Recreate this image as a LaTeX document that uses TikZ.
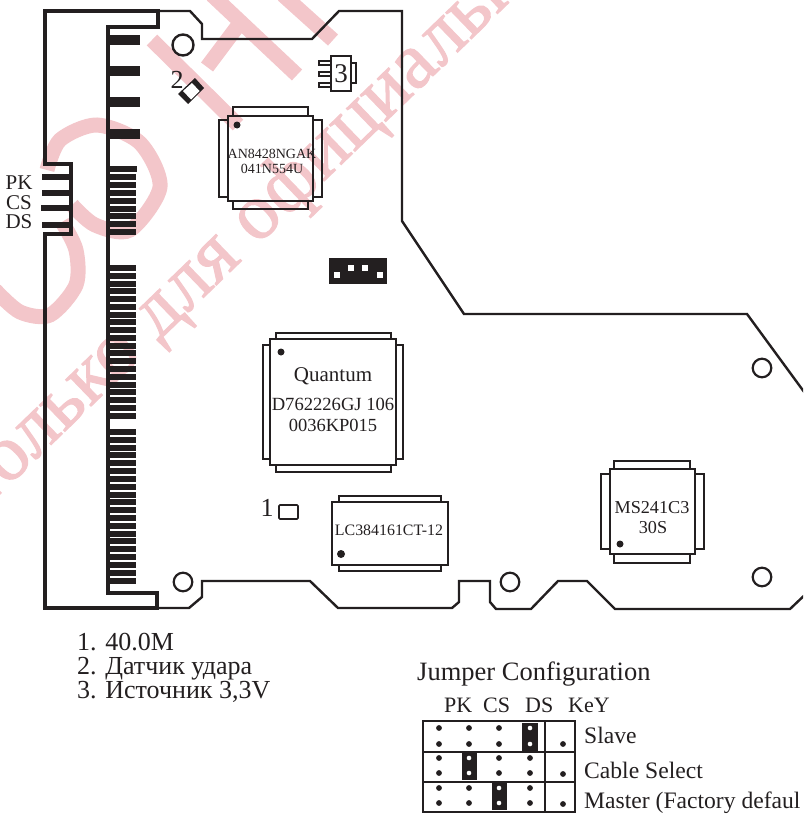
\documentclass[tikz,border=0pt]{standalone}
\usepackage{fontspec}
\setmainfont{Liberation Serif}
\newfontfamily\stampfont[FakeBold=1.3]{Liberation Serif}
\definecolor{wmark}{RGB}{243,198,202}
\definecolor{ink}{RGB}{35,31,32}
\newcommand{\fsz}[1]{\fontsize{#1}{#1}\selectfont}
\begin{document}
\begin{tikzpicture}[x=1pt,y=-1pt,color=ink,
  board/.style={line width=2.4pt,line join=miter},
  boardthick/.style={line width=3.8pt,line join=miter},
  chipline/.style={line width=2.2pt},
  stamp/.style={wmark,line width=15pt},
  lbl/.style={inner sep=0pt,anchor=base west}]
\useasboundingbox (0,0) rectangle (803,816);
\clip (0,0) rectangle (803,816);
  % watermark
  \node[wmark,inner sep=0pt,anchor=base west,rotate=44] (stampline) at (-17.5,511) {\stampfont\fsz{80}только для официального};
  \draw[stamp] plot[smooth] coordinates {(47,170) (60,140) (97,125) (140,143) (160,187) (130,230) (95,225) (72,205)};
  \draw[stamp] plot[smooth] coordinates {(62,222) (76,250) (76,285) (50,315) (20,312) (-5,290)};
  \draw[stamp] (152,40) -- (238,125);
  \draw[stamp] (212,-5) -- (297,75);
  \draw[stamp] (283,-5) -- (333,40);
  \draw[stamp] (240,23) -- (207,67);
  % board outline
  \draw[board] (158,11) -- (190,11) -- (202,24) -- (202,39) -- (312,39) -- (339,11) -- (402,11) -- (402,221) -- (464,314) -- (747,314) -- (810,400);
  \draw[board] (157,608) -- (189,608) -- (202,597) -- (202,581) -- (310,581) -- (338,608) -- (452,608) -- (459,602) -- (459,581) -- (490,581) -- (490,602) -- (496,609) -- (531,609) -- (558,581) -- (587,581) -- (615,609) -- (790,609) -- (810,590);
  % connector edge
  \draw[boardthick] (158,27) -- (158,11) -- (45,11) -- (45,164) -- (71,164) -- (71,234) -- (45,234) -- (45,608) -- (157,608) -- (157,593) -- (108,593) -- (108,27) -- cycle;
  % big contacts
  \foreach \y in {35,66,97,129} \fill (108,\y) rectangle (140,\y+10);
  % first pins
  \fill (108,166) rectangle (137,172);
  \foreach \i in {1,...,8} \fill (108,166+7.9*\i) rectangle (136,172+7.9*\i);
  % pins
  \foreach \i in {0,...,19} \fill (108,265+7.77*\i) rectangle (136,271+7.77*\i);
  \foreach \i in {0,...,19} \fill (108,429+7.82*\i) rectangle (136,435+7.82*\i);
  % jumper pins
  \fill (42,174) rectangle (70,180);
  \fill (42,190) rectangle (70,196);
  \fill (41,205) rectangle (70,211);
  \fill (42,222) rectangle (70,228);
  \node[inner sep=0pt] (pk) at (19,183) {\fsz{21}PK};
  \node[inner sep=0pt] (cs) at (19,203) {\fsz{21}CS};
  \node[inner sep=0pt] (ds) at (19,222) {\fsz{21}DS};
  % mounting holes
  \draw[line width=2.4pt] (183,45) circle (10.5);
  \draw[line width=2.2pt] (183,582) circle (9.3);
  \draw[line width=2.2pt] (510,582) circle (9.3);
  \draw[line width=2.2pt] (762,368) circle (9.3);
  \draw[line width=2.2pt] (762,577) circle (9.3);
  % sensor 2
  \fill (195,78) -- (204,88) -- (188,104) -- (178,94) -- cycle;
  \fill[white] (192,83) -- (199.5,91) -- (191,99.5) -- (183,91) -- cycle;
  \node[inner sep=0pt] (two) at (177,80) {\fsz{26}2};
  % regulator 3
  \draw[line width=1.8pt] (331,56) rectangle (351,91);
  \draw[line width=1.8pt] (351,63) rectangle (356,83);
  \draw[line width=1.6pt] (319,61) rectangle (331,65);
  \draw[line width=1.6pt] (319,72) rectangle (331,76);
  \draw[line width=1.6pt] (319,83) rectangle (331,87);
  \node[inner sep=0pt] (three) at (341,74) {\fsz{27}3};
  % chip AN
  \draw[chipline] (233,107) rectangle (308,116);
  \draw[chipline] (233,201) rectangle (308,209);
  \draw[chipline] (219,120) rectangle (228,197);
  \draw[chipline] (313,120) rectangle (322,197);
  \draw[chipline] (228,116) rectangle (313,201);
  \fill (237,125) circle (3.5);
  \node[inner sep=0pt] (ana) at (272,154) {\fsz{14}AN8428NGAK};
  \node[inner sep=0pt] (anb) at (272,169) {\fsz{14}041N554U};
  % header
  \fill (329,258) rectangle (387,284);
  \fill[white] (334,272) rectangle (340,278);
  \fill[white] (348,265) rectangle (354,271);
  \fill[white] (362,265) rectangle (368,271);
  \fill[white] (377,272) rectangle (383,278);
  % chip Quantum
  \draw[chipline] (276,333) rectangle (391,339);
  \draw[chipline] (276,465) rectangle (391,472);
  \draw[chipline] (263,345) rectangle (270,459);
  \draw[chipline] (396,345) rectangle (403,459);
  \draw[chipline] (270,339) rectangle (396,465);
  \fill (281,352) circle (3.5);
  \node[inner sep=0pt] (qa) at (333,376) {\fsz{21}Quantum};
  \node[inner sep=0pt] (qb) at (333,404) {\fsz{18.6}D762226GJ 106};
  \node[inner sep=0pt] (qc) at (333,425) {\fsz{18.5}0036KP015};
  % crystal 1
  \draw[line width=1.6pt,rounded corners=1pt] (279,505) rectangle (298,519);
  \node[inner sep=0pt] (one) at (267,508) {\fsz{26}1};
  % chip LC
  \draw[chipline] (339,496) rectangle (441,502);
  \draw[chipline] (339,565) rectangle (441,571);
  \draw[chipline] (332,502) rectangle (448,565);
  \fill (341,554) circle (4);
  \node[inner sep=0pt] (lc) at (389,530) {\fsz{15.9}LC384161CT-12};
  % chip MS
  \draw[chipline] (614,461) rectangle (690,469);
  \draw[chipline] (614,554) rectangle (690,563);
  \draw[chipline] (601,474) rectangle (610,549);
  \draw[chipline] (695,474) rectangle (704,549);
  \draw[chipline] (610,469) rectangle (695,554);
  \fill (620,544) circle (3.5);
  \node[inner sep=0pt] (msa) at (652,508) {\fsz{18.2}MS241C3};
  \node[inner sep=0pt] (msb) at (653,528) {\fsz{18.2}30S};
  % legend
  \node[lbl] (lega) at (77,650) {\fsz{26}1. 40.0M};
  \node[lbl] (legb) at (77,674) {\fsz{26}2. Датчик удара};
  \node[lbl] (legc) at (77,698) {\fsz{26}3. Источник 3,3V};
  % jumper table
  \node[lbl] (jtitle) at (417,680) {\fsz{26.5}Jumper Configuration};
  \node[lbl] (hpk) at (444,712) {\fsz{22}PK};
  \node[lbl] (hcs) at (483,712) {\fsz{22}CS};
  \node[lbl] (hds) at (525,712) {\fsz{22}DS};
  \node[lbl] (hkey) at (568,712) {\fsz{22}KeY};
  \fill (522,723) rectangle (538,751);
  \fill (462,753) rectangle (477,780);
  \fill (492,783) rectangle (507,810);
  \draw[line width=2.2pt] (423,721) rectangle (575,812);
  \draw[line width=2.2pt] (423,752) -- (575,752);
  \draw[line width=2.2pt] (423,782) -- (575,782);
  \draw[line width=1.6pt] (545,721) -- (545,812);
  \foreach \x in {439,469,499,530} {
    \foreach \y in {728,744,758,773,788,803} \fill (\x,\y) circle (2.9);
  }
  \foreach \y in {744,774,804} \fill (563,\y) circle (2.9);
  % pins on jumpers
  \foreach \x/\y in {530/728,530/744,469/758,469/773,499/788,499/803} \fill[white] (\x,\y) circle (2.3);
  \node[lbl] (rslave) at (584,743) {\fsz{23.6}Slave};
  \node[lbl] (rcable) at (584,778) {\fsz{23.6}Cable Select};
  \node[lbl] (rmaster) at (584,808) {\fsz{23.6}Master (Factory defaul};
\end{tikzpicture}
\end{document}
